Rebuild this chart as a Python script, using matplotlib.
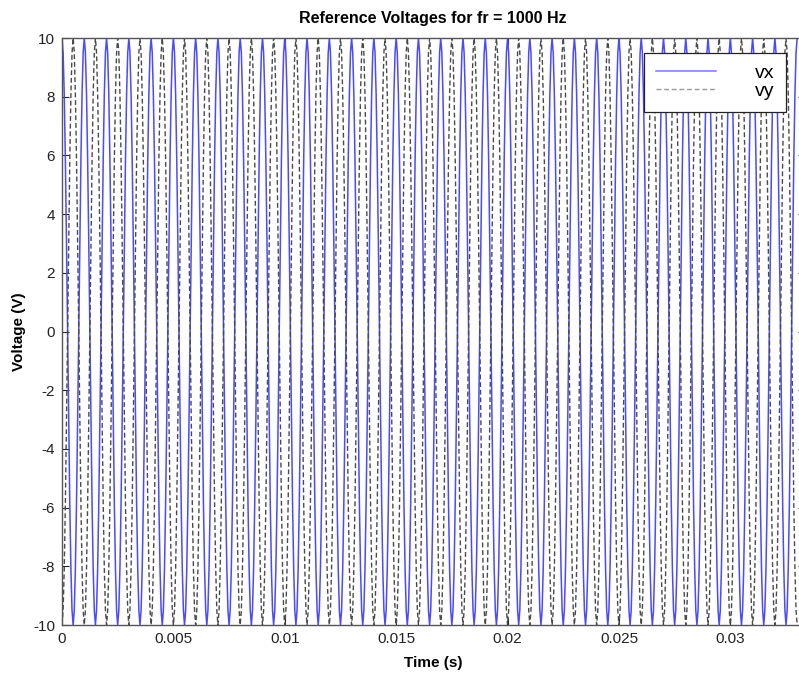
"""
plot.py
-------
Reference voltages vx / vy for fr = 1000 Hz, sampled every 50 us.
"""

import matplotlib

matplotlib.use("Agg")
import matplotlib.pyplot as plt
import numpy as np

SAMPLE_TIME = 5e-5  # s between samples
X_MAX = 1 / 30  # axis end (figure is cropped just before it)

# vx samples (V), one row per 1 ms period
VX = [
    10.0, 9.5, 8.1, 5.9, 3.1, 0.0, -3.1, -5.9, -8.1, -9.5, -10.0, -9.5, -8.1, -5.9, -3.1, 0.0, 3.1, 5.9, 8.1, 9.5,
    10.0, 9.5, 8.1, 5.9, 3.1, 0.0, -3.1, -5.9, -8.1, -9.5, -10.0, -9.5, -8.1, -5.9, -3.1, 0.0, 3.1, 5.9, 8.1, 9.5,
    10.0, 9.5, 8.1, 5.9, 3.1, 0.0, -3.1, -5.9, -8.1, -9.5, -10.0, -9.5, -8.1, -5.9, -3.1, 0.0, 3.1, 5.9, 8.1, 9.5,
    10.0, 9.5, 8.1, 5.9, 3.1, 0.0, -3.1, -5.9, -8.1, -9.5, -10.0, -9.5, -8.1, -5.9, -3.1, 0.0, 3.1, 5.9, 8.1, 9.5,
    10.0, 9.5, 8.1, 5.9, 3.1, 0.0, -3.1, -5.9, -8.1, -9.5, -10.0, -9.5, -8.1, -5.9, -3.1, 0.0, 3.1, 5.9, 8.1, 9.5,
    10.0, 9.5, 8.1, 5.9, 3.1, 0.0, -3.1, -5.9, -8.1, -9.5, -10.0, -9.5, -8.1, -5.9, -3.1, 0.0, 3.1, 5.9, 8.1, 9.5,
    10.0, 9.5, 8.1, 5.9, 3.1, 0.0, -3.1, -5.9, -8.1, -9.5, -10.0, -9.5, -8.1, -5.9, -3.1, 0.0, 3.1, 5.9, 8.1, 9.5,
    10.0, 9.5, 8.1, 5.9, 3.1, 0.0, -3.1, -5.9, -8.1, -9.5, -10.0, -9.5, -8.1, -5.9, -3.1, 0.0, 3.1, 5.9, 8.1, 9.5,
    10.0, 9.5, 8.1, 5.9, 3.1, 0.0, -3.1, -5.9, -8.1, -9.5, -10.0, -9.5, -8.1, -5.9, -3.1, 0.0, 3.1, 5.9, 8.1, 9.5,
    10.0, 9.5, 8.1, 5.9, 3.1, 0.0, -3.1, -5.9, -8.1, -9.5, -10.0, -9.5, -8.1, -5.9, -3.1, 0.0, 3.1, 5.9, 8.1, 9.5,
    10.0, 9.5, 8.1, 5.9, 3.1, 0.0, -3.1, -5.9, -8.1, -9.5, -10.0, -9.5, -8.1, -5.9, -3.1, 0.0, 3.1, 5.9, 8.1, 9.5,
    10.0, 9.5, 8.1, 5.9, 3.1, 0.0, -3.1, -5.9, -8.1, -9.5, -10.0, -9.5, -8.1, -5.9, -3.1, 0.0, 3.1, 5.9, 8.1, 9.5,
    10.0, 9.5, 8.1, 5.9, 3.1, 0.0, -3.1, -5.9, -8.1, -9.5, -10.0, -9.5, -8.1, -5.9, -3.1, 0.0, 3.1, 5.9, 8.1, 9.5,
    10.0, 9.5, 8.1, 5.9, 3.1, 0.0, -3.1, -5.9, -8.1, -9.5, -10.0, -9.5, -8.1, -5.9, -3.1, 0.0, 3.1, 5.9, 8.1, 9.5,
    10.0, 9.5, 8.1, 5.9, 3.1, 0.0, -3.1, -5.9, -8.1, -9.5, -10.0, -9.5, -8.1, -5.9, -3.1, 0.0, 3.1, 5.9, 8.1, 9.5,
    10.0, 9.5, 8.1, 5.9, 3.1, 0.0, -3.1, -5.9, -8.1, -9.5, -10.0, -9.5, -8.1, -5.9, -3.1, 0.0, 3.1, 5.9, 8.1, 9.5,
    10.0, 9.5, 8.1, 5.9, 3.1, 0.0, -3.1, -5.9, -8.1, -9.5, -10.0, -9.5, -8.1, -5.9, -3.1, 0.0, 3.1, 5.9, 8.1, 9.5,
    10.0, 9.5, 8.1, 5.9, 3.1, 0.0, -3.1, -5.9, -8.1, -9.5, -10.0, -9.5, -8.1, -5.9, -3.1, 0.0, 3.1, 5.9, 8.1, 9.5,
    10.0, 9.5, 8.1, 5.9, 3.1, 0.0, -3.1, -5.9, -8.1, -9.5, -10.0, -9.5, -8.1, -5.9, -3.1, 0.0, 3.1, 5.9, 8.1, 9.5,
    10.0, 9.5, 8.1, 5.9, 3.1, 0.0, -3.1, -5.9, -8.1, -9.5, -10.0, -9.5, -8.1, -5.9, -3.1, 0.0, 3.1, 5.9, 8.1, 9.5,
    10.0, 9.5, 8.1, 5.9, 3.1, 0.0, -3.1, -5.9, -8.1, -9.5, -10.0, -9.5, -8.1, -5.9, -3.1, 0.0, 3.1, 5.9, 8.1, 9.5,
    10.0, 9.5, 8.1, 5.9, 3.1, 0.0, -3.1, -5.9, -8.1, -9.5, -10.0, -9.5, -8.1, -5.9, -3.1, 0.0, 3.1, 5.9, 8.1, 9.5,
    10.0, 9.5, 8.1, 5.9, 3.1, 0.0, -3.1, -5.9, -8.1, -9.5, -10.0, -9.5, -8.1, -5.9, -3.1, 0.0, 3.1, 5.9, 8.1, 9.5,
    10.0, 9.5, 8.1, 5.9, 3.1, 0.0, -3.1, -5.9, -8.1, -9.5, -10.0, -9.5, -8.1, -5.9, -3.1, 0.0, 3.1, 5.9, 8.1, 9.5,
    10.0, 9.5, 8.1, 5.9, 3.1, 0.0, -3.1, -5.9, -8.1, -9.5, -10.0, -9.5, -8.1, -5.9, -3.1, 0.0, 3.1, 5.9, 8.1, 9.5,
    10.0, 9.5, 8.1, 5.9, 3.1, 0.0, -3.1, -5.9, -8.1, -9.5, -10.0, -9.5, -8.1, -5.9, -3.1, 0.0, 3.1, 5.9, 8.1, 9.5,
    10.0, 9.5, 8.1, 5.9, 3.1, 0.0, -3.1, -5.9, -8.1, -9.5, -10.0, -9.5, -8.1, -5.9, -3.1, 0.0, 3.1, 5.9, 8.1, 9.5,
    10.0, 9.5, 8.1, 5.9, 3.1, 0.0, -3.1, -5.9, -8.1, -9.5, -10.0, -9.5, -8.1, -5.9, -3.1, 0.0, 3.1, 5.9, 8.1, 9.5,
    10.0, 9.5, 8.1, 5.9, 3.1, 0.0, -3.1, -5.9, -8.1, -9.5, -10.0, -9.5, -8.1, -5.9, -3.1, 0.0, 3.1, 5.9, 8.1, 9.5,
    10.0, 9.5, 8.1, 5.9, 3.1, 0.0, -3.1, -5.9, -8.1, -9.5, -10.0, -9.5, -8.1, -5.9, -3.1, 0.0, 3.1, 5.9, 8.1, 9.5,
    10.0, 9.5, 8.1, 5.9, 3.1, 0.0, -3.1, -5.9, -8.1, -9.5, -10.0, -9.5, -8.1, -5.9, -3.1, 0.0, 3.1, 5.9, 8.1, 9.5,
    10.0, 9.5, 8.1, 5.9, 3.1, 0.0, -3.1, -5.9, -8.1, -9.5, -10.0, -9.5, -8.1, -5.9, -3.1, 0.0, 3.1, 5.9, 8.1, 9.5,
    10.0, 9.5, 8.1, 5.9, 3.1, 0.0, -3.1, -5.9, -8.1, -9.5, -10.0, -9.5, -8.1, -5.9, -3.1, 0.0, 3.1, 5.9, 8.1, 9.5,
    10.0,
]

# vy samples (V), one row per 1 ms period
VY = [
    -10.0, -9.5, -8.1, -5.9, -3.1, 0.0, 3.1, 5.9, 8.1, 9.5, 10.0, 9.5, 8.1, 5.9, 3.1, 0.0, -3.1, -5.9, -8.1, -9.5,
    -10.0, -9.5, -8.1, -5.9, -3.1, 0.0, 3.1, 5.9, 8.1, 9.5, 10.0, 9.5, 8.1, 5.9, 3.1, 0.0, -3.1, -5.9, -8.1, -9.5,
    -10.0, -9.5, -8.1, -5.9, -3.1, 0.0, 3.1, 5.9, 8.1, 9.5, 10.0, 9.5, 8.1, 5.9, 3.1, 0.0, -3.1, -5.9, -8.1, -9.5,
    -10.0, -9.5, -8.1, -5.9, -3.1, 0.0, 3.1, 5.9, 8.1, 9.5, 10.0, 9.5, 8.1, 5.9, 3.1, 0.0, -3.1, -5.9, -8.1, -9.5,
    -10.0, -9.5, -8.1, -5.9, -3.1, 0.0, 3.1, 5.9, 8.1, 9.5, 10.0, 9.5, 8.1, 5.9, 3.1, 0.0, -3.1, -5.9, -8.1, -9.5,
    -10.0, -9.5, -8.1, -5.9, -3.1, 0.0, 3.1, 5.9, 8.1, 9.5, 10.0, 9.5, 8.1, 5.9, 3.1, 0.0, -3.1, -5.9, -8.1, -9.5,
    -10.0, -9.5, -8.1, -5.9, -3.1, 0.0, 3.1, 5.9, 8.1, 9.5, 10.0, 9.5, 8.1, 5.9, 3.1, 0.0, -3.1, -5.9, -8.1, -9.5,
    -10.0, -9.5, -8.1, -5.9, -3.1, 0.0, 3.1, 5.9, 8.1, 9.5, 10.0, 9.5, 8.1, 5.9, 3.1, 0.0, -3.1, -5.9, -8.1, -9.5,
    -10.0, -9.5, -8.1, -5.9, -3.1, 0.0, 3.1, 5.9, 8.1, 9.5, 10.0, 9.5, 8.1, 5.9, 3.1, 0.0, -3.1, -5.9, -8.1, -9.5,
    -10.0, -9.5, -8.1, -5.9, -3.1, 0.0, 3.1, 5.9, 8.1, 9.5, 10.0, 9.5, 8.1, 5.9, 3.1, 0.0, -3.1, -5.9, -8.1, -9.5,
    -10.0, -9.5, -8.1, -5.9, -3.1, 0.0, 3.1, 5.9, 8.1, 9.5, 10.0, 9.5, 8.1, 5.9, 3.1, 0.0, -3.1, -5.9, -8.1, -9.5,
    -10.0, -9.5, -8.1, -5.9, -3.1, 0.0, 3.1, 5.9, 8.1, 9.5, 10.0, 9.5, 8.1, 5.9, 3.1, 0.0, -3.1, -5.9, -8.1, -9.5,
    -10.0, -9.5, -8.1, -5.9, -3.1, 0.0, 3.1, 5.9, 8.1, 9.5, 10.0, 9.5, 8.1, 5.9, 3.1, 0.0, -3.1, -5.9, -8.1, -9.5,
    -10.0, -9.5, -8.1, -5.9, -3.1, 0.0, 3.1, 5.9, 8.1, 9.5, 10.0, 9.5, 8.1, 5.9, 3.1, 0.0, -3.1, -5.9, -8.1, -9.5,
    -10.0, -9.5, -8.1, -5.9, -3.1, 0.0, 3.1, 5.9, 8.1, 9.5, 10.0, 9.5, 8.1, 5.9, 3.1, 0.0, -3.1, -5.9, -8.1, -9.5,
    -10.0, -9.5, -8.1, -5.9, -3.1, 0.0, 3.1, 5.9, 8.1, 9.5, 10.0, 9.5, 8.1, 5.9, 3.1, 0.0, -3.1, -5.9, -8.1, -9.5,
    -10.0, -9.5, -8.1, -5.9, -3.1, 0.0, 3.1, 5.9, 8.1, 9.5, 10.0, 9.5, 8.1, 5.9, 3.1, 0.0, -3.1, -5.9, -8.1, -9.5,
    -10.0, -9.5, -8.1, -5.9, -3.1, 0.0, 3.1, 5.9, 8.1, 9.5, 10.0, 9.5, 8.1, 5.9, 3.1, 0.0, -3.1, -5.9, -8.1, -9.5,
    -10.0, -9.5, -8.1, -5.9, -3.1, 0.0, 3.1, 5.9, 8.1, 9.5, 10.0, 9.5, 8.1, 5.9, 3.1, 0.0, -3.1, -5.9, -8.1, -9.5,
    -10.0, -9.5, -8.1, -5.9, -3.1, 0.0, 3.1, 5.9, 8.1, 9.5, 10.0, 9.5, 8.1, 5.9, 3.1, 0.0, -3.1, -5.9, -8.1, -9.5,
    -10.0, -9.5, -8.1, -5.9, -3.1, 0.0, 3.1, 5.9, 8.1, 9.5, 10.0, 9.5, 8.1, 5.9, 3.1, 0.0, -3.1, -5.9, -8.1, -9.5,
    -10.0, -9.5, -8.1, -5.9, -3.1, 0.0, 3.1, 5.9, 8.1, 9.5, 10.0, 9.5, 8.1, 5.9, 3.1, 0.0, -3.1, -5.9, -8.1, -9.5,
    -10.0, -9.5, -8.1, -5.9, -3.1, 0.0, 3.1, 5.9, 8.1, 9.5, 10.0, 9.5, 8.1, 5.9, 3.1, 0.0, -3.1, -5.9, -8.1, -9.5,
    -10.0, -9.5, -8.1, -5.9, -3.1, 0.0, 3.1, 5.9, 8.1, 9.5, 10.0, 9.5, 8.1, 5.9, 3.1, 0.0, -3.1, -5.9, -8.1, -9.5,
    -10.0, -9.5, -8.1, -5.9, -3.1, 0.0, 3.1, 5.9, 8.1, 9.5, 10.0, 9.5, 8.1, 5.9, 3.1, 0.0, -3.1, -5.9, -8.1, -9.5,
    -10.0, -9.5, -8.1, -5.9, -3.1, 0.0, 3.1, 5.9, 8.1, 9.5, 10.0, 9.5, 8.1, 5.9, 3.1, 0.0, -3.1, -5.9, -8.1, -9.5,
    -10.0, -9.5, -8.1, -5.9, -3.1, 0.0, 3.1, 5.9, 8.1, 9.5, 10.0, 9.5, 8.1, 5.9, 3.1, 0.0, -3.1, -5.9, -8.1, -9.5,
    -10.0, -9.5, -8.1, -5.9, -3.1, 0.0, 3.1, 5.9, 8.1, 9.5, 10.0, 9.5, 8.1, 5.9, 3.1, 0.0, -3.1, -5.9, -8.1, -9.5,
    -10.0, -9.5, -8.1, -5.9, -3.1, 0.0, 3.1, 5.9, 8.1, 9.5, 10.0, 9.5, 8.1, 5.9, 3.1, 0.0, -3.1, -5.9, -8.1, -9.5,
    -10.0, -9.5, -8.1, -5.9, -3.1, 0.0, 3.1, 5.9, 8.1, 9.5, 10.0, 9.5, 8.1, 5.9, 3.1, 0.0, -3.1, -5.9, -8.1, -9.5,
    -10.0, -9.5, -8.1, -5.9, -3.1, 0.0, 3.1, 5.9, 8.1, 9.5, 10.0, 9.5, 8.1, 5.9, 3.1, 0.0, -3.1, -5.9, -8.1, -9.5,
    -10.0, -9.5, -8.1, -5.9, -3.1, 0.0, 3.1, 5.9, 8.1, 9.5, 10.0, 9.5, 8.1, 5.9, 3.1, 0.0, -3.1, -5.9, -8.1, -9.5,
    -10.0, -9.5, -8.1, -5.9, -3.1, 0.0, 3.1, 5.9, 8.1, 9.5, 10.0, 9.5, 8.1, 5.9, 3.1, 0.0, -3.1, -5.9, -8.1, -9.5,
    -10.0,
]

X_TICKS = [0, 0.005, 0.01, 0.015, 0.02, 0.025, 0.03]
X_TICK_LABELS = ["0", "0.005", "0.01", "0.015", "0.02", "0.025", "0.03"]
Y_TICKS = [-10, -8, -6, -4, -2, 0, 2, 4, 6, 8, 10]


def main():
    plt.rcParams["font.family"] = ["Liberation Sans", "DejaVu Sans"]
    plt.rcParams["axes.unicode_minus"] = False

    t = np.arange(len(VX)) * SAMPLE_TIME

    fig = plt.figure(figsize=(7.99, 6.74), dpi=100)
    fig.patch.set_facecolor("white")
    # right edge sits just past the canvas, like the cropped original
    ax = fig.add_axes([0.0776, 0.0727, 0.9294, 0.8709])

    ax.plot(t, VX, color="#4a4aff", linewidth=1.1, label="vx")
    ax.plot(t, VY, color="#4a4a4a", linewidth=1.0, linestyle="--",
            dashes=(3.5, 2.0), label="vy")

    ax.set_xlim(0, X_MAX)
    ax.set_ylim(-10, 10)
    ax.set_xticks(X_TICKS)
    ax.set_xticklabels(X_TICK_LABELS)
    ax.set_yticks(Y_TICKS)
    ax.tick_params(direction="in", length=5, width=0.8, labelsize=11,
                   top=True, right=True, colors="#222222", pad=5)
    for spine in ax.spines.values():
        spine.set_color("#555555")
        spine.set_linewidth(1.0)

    ax.set_title("Reference Voltages for fr = 1000 Hz", fontsize=11.5,
                 fontweight="bold", pad=11)
    ax.set_xlabel("Time (s)", fontsize=11, fontweight="bold", labelpad=7)
    ax.set_ylabel("Voltage (V)", fontsize=11, fontweight="bold", labelpad=5)

    leg = ax.legend(loc="upper right", bbox_to_anchor=(786 / 799, 1 - 53 / 674),
                    bbox_transform=fig.transFigure, fontsize=14, fancybox=False,
                    framealpha=1, edgecolor="#222222", borderpad=0.6,
                    handlelength=3.1, handletextpad=2.0, labelspacing=0.0,
                    borderaxespad=0)
    leg.get_frame().set_linewidth(0.9)
    leg.get_lines()[0].set_color("#7878ff")
    leg.get_lines()[1].set_color("#9a9a9a")

    fig.savefig("out.png", dpi=100, facecolor=fig.get_facecolor())


if __name__ == "__main__":
    main()
